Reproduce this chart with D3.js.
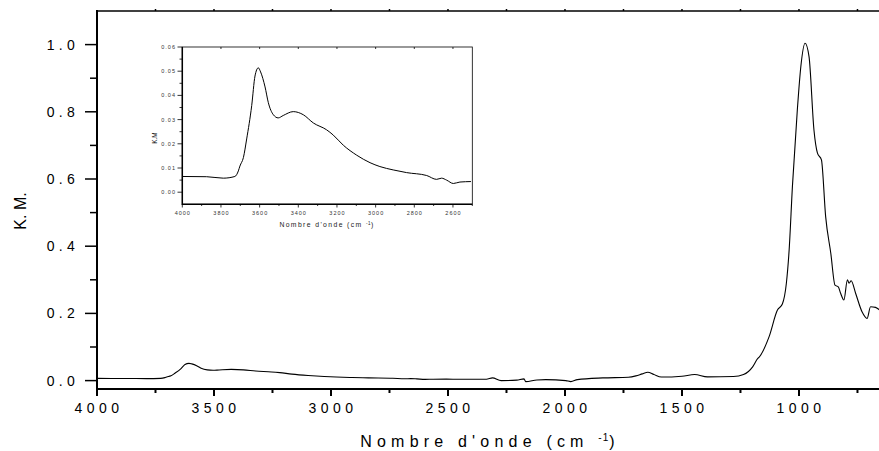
<!DOCTYPE html>
<html>
<head>
<meta charset="utf-8">
<script src="https://cdn.jsdelivr.net/npm/d3@7"></script>
<style>
  body { margin: 0; background: #fff; }
  svg { display: block; font-family: "Liberation Sans", Arial, sans-serif; }
</style>
</head>
<body>
<svg id="chart" width="879" height="451"></svg>
<script>
// spectrum (wavenumber cm-1, K.M.)
var wavenumbers = [4000, 3874, 3788, 3728, 3710, 3702, 3684, 3667, 3641, 3624, 3607, 3595, 3572, 3555, 3529, 3504, 3478, 3426, 3374, 3322, 3254, 3219, 3167, 3098, 3029, 2978, 2909, 2840, 2736, 2685, 2659, 2633, 2598, 2564, 2507,
  2450, 2336, 2310, 2273, 2206, 2175, 2168, 2120, 2082, 1996, 1975, 1947, 1838, 1729, 1697, 1670, 1646, 1620, 1588, 1500, 1446, 1391, 1280, 1237, 1198, 1176,
  1170, 1128, 1092, 1071, 1054, 1042, 1028, 1007, 992, 974, 957, 936, 921, 904, 886, 864, 846, 832, 822, 808, 793, 786, 777, 758, 730, 709, 694, 673, 655];
var kmValues = [0.0065, 0.0064, 0.0058, 0.0065, 0.0088, 0.0108, 0.0143, 0.022, 0.0358, 0.048, 0.0514, 0.0497, 0.0435, 0.037, 0.032, 0.0307, 0.0317, 0.0333, 0.032, 0.0286, 0.0258, 0.0236, 0.0194, 0.0153, 0.0122, 0.0106, 0.0092, 0.0081, 0.0069, 0.0053, 0.0058, 0.005, 0.0036, 0.0042, 0.0044,
  0.004, 0.004, 0.008, 0.0, 0.0015, 0.005, -0.003, 0.002, 0.003, 0.0, -0.003, 0.003, 0.008, 0.01, 0.014, 0.02, 0.025, 0.018, 0.0105, 0.013, 0.018, 0.011, 0.012, 0.018, 0.041, 0.066,
  0.07, 0.13, 0.21, 0.228, 0.289, 0.389, 0.578, 0.806, 0.935, 1.004, 0.964, 0.746, 0.677, 0.657, 0.488, 0.379, 0.284, 0.279, 0.26, 0.24, 0.3, 0.29, 0.297, 0.26, 0.204, 0.185, 0.22, 0.218, 0.21];

var mainXTicks = [4000, 3500, 3000, 2500, 2000, 1500, 1000];
var mainYTicks = [0.0, 0.2, 0.4, 0.6, 0.8, 1.0];
var insetXTicks = [4000, 3800, 3600, 3400, 3200, 3000, 2800, 2600];
var insetYTicks = [0.00, 0.01, 0.02, 0.03, 0.04, 0.05, 0.06];

var spectrum = wavenumbers.map(function(w, i) { return [w, kmValues[i]]; });

var svg = d3.select("#chart");

// ---- main plot
var x = d3.scaleLinear().domain([4000, 658]).range([97, 879]);
var y = d3.scaleLinear().domain([-0.025, 1.1]).range([389, 11]);

var line = d3.line()
  .x(function(d) { return x(d[0]); })
  .y(function(d) { return y(d[1]); })
  .curve(d3.curveMonotoneX);

svg.append("path").datum(spectrum)
  .attr("d", line).attr("fill", "none").attr("stroke", "#000").attr("stroke-width", 1.1);

// bottom axis
var xAxis = svg.append("g").attr("transform", "translate(0,389)");
xAxis.append("line").attr("x1", 97).attr("x2", 879).attr("stroke", "#000").attr("stroke-width", 2);
xAxis.selectAll(".minor").data(d3.range(3750, 600, -500)).enter().append("line")
  .attr("x1", function(d) { return x(d); }).attr("x2", function(d) { return x(d); })
  .attr("y1", 0).attr("y2", 4).attr("stroke", "#000").attr("stroke-width", 2);
xAxis.selectAll(".major").data(mainXTicks).enter().append("line")
  .attr("x1", function(d) { return x(d); }).attr("x2", function(d) { return x(d); })
  .attr("y1", 0).attr("y2", 7).attr("stroke", "#000").attr("stroke-width", 2);
xAxis.selectAll("text").data(mainXTicks).enter().append("text")
  .attr("x", function(d) { return x(d) + 2; }).attr("y", 24)
  .attr("text-anchor", "middle").attr("font-size", 14).style("letter-spacing", "4.5px")
  .text(function(d) { return d; });

// top axis
var topAxis = svg.append("g").attr("transform", "translate(0,11)");
topAxis.append("line").attr("x1", 96).attr("x2", 879).attr("stroke", "#000").attr("stroke-width", 1.6);
topAxis.selectAll(".t").data(d3.range(3750, 600, -250)).enter().append("line")
  .attr("x1", function(d) { return x(d); }).attr("x2", function(d) { return x(d); })
  .attr("y1", 0).attr("y2", -2).attr("stroke", "#000").attr("stroke-width", 1.5);

// left axis
var yAxis = svg.append("g").attr("transform", "translate(97,0)");
yAxis.append("line").attr("y1", 10).attr("y2", 390).attr("stroke", "#000").attr("stroke-width", 2);
yAxis.selectAll(".minor").data([0.1, 0.3, 0.5, 0.7, 0.9]).enter().append("line")
  .attr("y1", function(d) { return y(d); }).attr("y2", function(d) { return y(d); })
  .attr("x1", 0).attr("x2", -7).attr("stroke", "#000").attr("stroke-width", 1.5);
yAxis.selectAll(".major").data(mainYTicks).enter().append("line")
  .attr("y1", function(d) { return y(d); }).attr("y2", function(d) { return y(d); })
  .attr("x1", 0).attr("x2", -12).attr("stroke", "#000").attr("stroke-width", 1.5);
yAxis.selectAll("text").data(mainYTicks).enter().append("text")
  .attr("x", -18).attr("y", function(d) { return y(d) + 5; })
  .attr("text-anchor", "end").attr("font-size", 14).style("letter-spacing", "4.3px")
  .text(function(d) { return d3.format(".1f")(d); });

svg.append("text").attr("transform", "translate(25.5,211) rotate(-90)")
  .attr("text-anchor", "middle").attr("font-size", 16).text("K. M.");

var xt = svg.append("text").attr("x", 490).attr("y", 447)
  .attr("text-anchor", "middle").attr("font-size", 16).style("letter-spacing", "5.2px");
xt.append("tspan").text("Nombre d'onde (cm ");
xt.append("tspan").attr("dy", -6).attr("font-size", 10).style("letter-spacing", "1px").text("-1");
xt.append("tspan").attr("dy", 6).text(")");

// ---- inset
var ix = d3.scaleLinear().domain([4000, 2500]).range([182.3, 472.3]);
var iy = d3.scaleLinear().domain([-0.005, 0.06]).range([204.3, 47]);
var insetData = spectrum.filter(function(d) { return d[0] >= 2500; });

var iline = d3.line()
  .x(function(d) { return ix(d[0]); })
  .y(function(d) { return iy(d[1]); })
  .curve(d3.curveMonotoneX);

var inset = svg.append("g");
inset.append("rect").attr("x", 182.3).attr("y", 47).attr("width", 290).attr("height", 157.3)
  .attr("fill", "#fff").attr("stroke", "#000").attr("stroke-width", 0.8);
inset.append("path").datum(insetData)
  .attr("d", iline).attr("fill", "none").attr("stroke", "#000").attr("stroke-width", 1);
inset.append("line").attr("x1", 182.3).attr("x2", 182.3).attr("y1", 47).attr("y2", 205)
  .attr("stroke", "#000").attr("stroke-width", 1.5);
inset.append("line").attr("x1", 182).attr("x2", 472.3).attr("y1", 204.3).attr("y2", 204.3)
  .attr("stroke", "#000").attr("stroke-width", 1.5);

inset.selectAll(".ixm").data(d3.range(4000, 2499, -100)).enter().append("line")
  .attr("x1", function(d) { return ix(d); }).attr("x2", function(d) { return ix(d); })
  .attr("y1", 204.3).attr("y2", function(d) { return d % 200 === 0 ? 207.5 : 206; })
  .attr("stroke", "#000").attr("stroke-width", 0.8);
inset.selectAll(".ixt").data(d3.range(3800, 2500, -200)).enter().append("line")
  .attr("x1", function(d) { return ix(d); }).attr("x2", function(d) { return ix(d); })
  .attr("y1", 47).attr("y2", 49).attr("stroke", "#000").attr("stroke-width", 0.8);
inset.selectAll(".ixl").data(insetXTicks).enter().append("text")
  .attr("x", function(d) { return ix(d) + 0.5; }).attr("y", 215)
  .attr("text-anchor", "middle").attr("font-size", 5.5).attr("fill", "#333").style("letter-spacing", "1px")
  .text(function(d) { return d; });

inset.selectAll(".iym").data(d3.range(0, 0.0601, 0.005)).enter().append("line")
  .attr("y1", function(d) { return iy(d); }).attr("y2", function(d) { return iy(d); })
  .attr("x1", 182.3).attr("x2", function(d, i) { return i % 2 === 0 ? 177.5 : 179.5; })
  .attr("stroke", "#000").attr("stroke-width", 0.8);
inset.selectAll(".iyl").data(insetYTicks).enter().append("text")
  .attr("x", 176).attr("y", function(d) { return iy(d) + 2; })
  .attr("text-anchor", "end").attr("font-size", 5.5).attr("fill", "#333").style("letter-spacing", "1px")
  .text(function(d) { return d3.format(".2f")(d); });

inset.append("text").attr("transform", "translate(157,138) rotate(-90)")
  .attr("text-anchor", "middle").attr("font-size", 6.5).text("K.M");

var ixt = inset.append("text").attr("x", 327).attr("y", 227)
  .attr("text-anchor", "middle").attr("font-size", 6.8).attr("fill", "#222").style("letter-spacing", "1.4px");
ixt.append("tspan").text("Nombre d'onde (cm ");
ixt.append("tspan").attr("dy", -2.5).attr("font-size", 4.5).style("letter-spacing", "0.5px").text("-1");
ixt.append("tspan").attr("dy", 2.5).text(")");
</script>
</body>
</html>
